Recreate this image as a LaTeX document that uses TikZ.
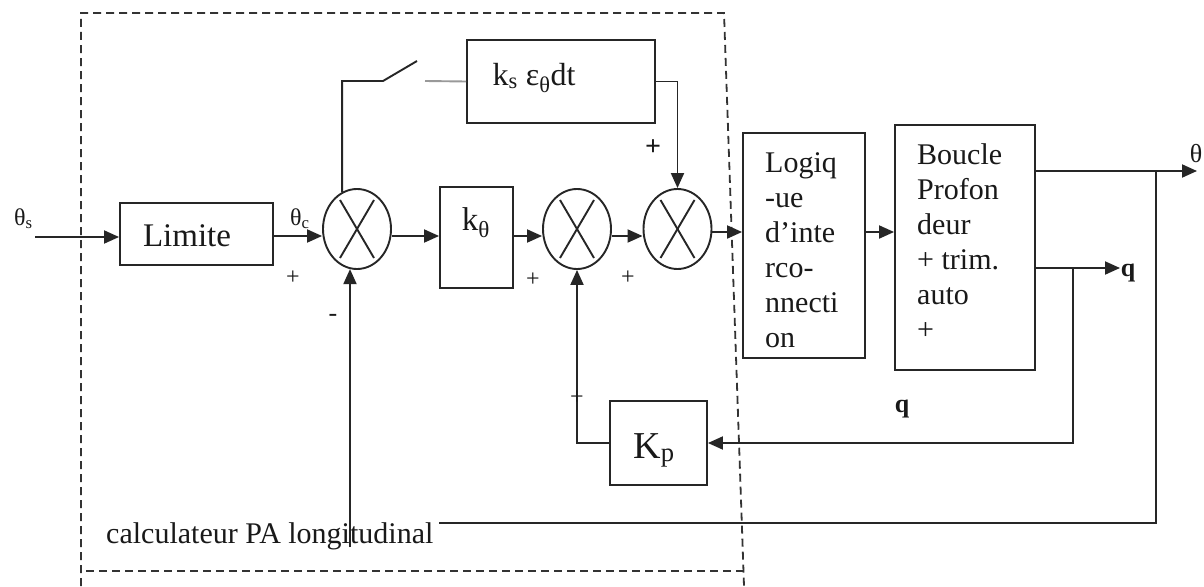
\documentclass[tikz,border=0pt]{standalone}
\usepackage{fontspec}
\setmainfont{Liberation Serif}
\usetikzlibrary{arrows.meta,shapes.geometric,calc}
\newcommand{\fsz}[1]{\fontsize{#1pt}{35pt}\selectfont}

\begin{document}
\begin{tikzpicture}[x=1pt,y=-1pt,
  ln/.style={line width=1.9pt,draw=black!85},
  arr/.style={ln,-{Triangle[length=15pt,width=13pt]}},
  blk/.style={ln,rectangle,inner sep=0pt},
  sum/.style={ln,ellipse,minimum width=68pt,minimum height=80pt,inner sep=0pt},
  lbl/.style={inner sep=0pt,text=black!90},
  frame/.style={line width=1.8pt,draw=black!80,dash pattern=on 8pt off 5pt}
]
\fill[white] (0,0) rectangle (1204,586);
\useasboundingbox (0,0) rectangle (1204,586);

% dashed frame of the autopilot computer
\draw[frame] (81,586) -- (81,13) -- (724,13) -- (744,586);
\draw[frame] (86,571) -- (743,571);

% blocks
\node[blk,minimum width=153pt,minimum height=62pt] (lim) at (196.5,234) {};
\node[lbl,font=\fsz{33},anchor=base] at (187,246) {Limite};

\node[blk,minimum width=73pt,minimum height=101pt] (k0) at (476.5,237.5) {};
\node[lbl,font=\fsz{33},anchor=base] at (476,230) {k\textsubscript{θ}};

\node[blk,minimum width=188pt,minimum height=83pt] (integ) at (561,81.5) {};
\node[lbl,font=\fsz{32},anchor=base] at (534,85) {k\textsubscript{s} ε\textsubscript{θ}dt};

\node[blk,minimum width=122pt,minimum height=225pt] (logiq) at (804,245.5) {};
\node[lbl,font=\fsz{30},align=left,anchor=north west] at (765,152)
  {Logiq\\-ue\\d'inte\\rco-\\nnecti\\on};

\node[blk,minimum width=140pt,minimum height=245pt] (boucle) at (965,247.5) {};
\node[lbl,font=\fsz{30},align=left,anchor=north west] at (917,143.5)
  {Boucle\\Profon\\deur\\+ trim.\\auto\\+};

\node[blk,minimum width=97pt,minimum height=84pt] (kp) at (658.5,443) {};
\node[lbl,font=\fsz{38},anchor=base] at (654,458) {K\textsubscript{p}};

% summing junctions
\node[sum] (s1) at (357,229) {};
\node[sum] (s2) at (577,229) {};
\node[sum] (s3) at (677.5,229) {};
\foreach \s in {s1,s2,s3}{
  \draw[ln] ([shift={(-17,-29)}]\s.center) -- ([shift={(17,29)}]\s.center);
  \draw[ln] ([shift={(17,-29)}]\s.center) -- ([shift={(-17,29)}]\s.center);
}

% main forward path
\coordinate (my) at (0,236);
\coordinate (my2) at (0,232);
\coordinate (in) at (35,237);
\draw[arr] (in) -- (in -| lim.west);
\draw[arr] (lim.east |- my) -- (s1.west |- my);
\draw[arr] (s1.east |- my) -- (k0.west |- my);
\draw[arr] (k0.east |- my) -- (s2.west |- my);
\draw[arr] (s2.east |- my) -- (s3.west |- my);
\draw[arr] (s3.east |- my2) -- (logiq.west |- my2);
\draw[arr] (logiq.east |- my2) -- (boucle.west |- my2);

% integral branch with switch
\coordinate (swA) at (383,81);
\coordinate (swB) at (417,61);
\coordinate (swC) at (425,81);
\draw[ln] (s1.112) |- (swA) -- (swB);
\draw[ln,draw=black!40] (swC) -- (integ.west);
\draw[arr] (integ.east) -| (s3.north);

% outputs
\coordinate (thOut) at (1197,171);
\coordinate (qOut) at (1120,268);
\coordinate (jt) at (1156,171);
\coordinate (jq) at (1073,268);
\draw[arr] (boucle.east |- thOut) -- (thOut);
\draw[arr] (boucle.east |- qOut) -- (qOut);

% pitch-rate feedback
\draw[arr] (jq) |- (kp.east);
\draw[arr] (kp.west) -| (s2.south);

% attitude feedback
\coordinate (fbc) at (350,523);
\coordinate (fbl) at (350,547);
\draw[ln] (jt) |- (fbc);
\node[lbl,fill=white,inner xsep=6pt,inner ysep=5pt,anchor=base west,font=\fsz{30}] (calc) at (100,543) {calculateur PA longitudinal};
\draw[arr] (fbl) -- (fbl |- s1.260);

% signal labels
\node[lbl,font=\fsz{24},anchor=base west] (ths) at (14,225) {θ\textsubscript{s}};
\node[lbl,font=\fsz{24},anchor=base west] (thc) at (290,225) {θ\textsubscript{c}};
\node[lbl,font=\fsz{26},anchor=base] (tho) at (1196,162) {θ};
\node[lbl,font=\bfseries\fsz{26},anchor=base] (ql) at (1128,276) {q};
\node[lbl,font=\bfseries\fsz{26},anchor=base] (qk) at (902,412) {q};

% signs
\node[lbl,font=\fsz{24}] at (293,278) {+};
\node[lbl,font=\fsz{24}] at (533,280) {+};
\node[lbl,font=\fsz{24}] at (628,278) {+};
\node[lbl,font=\fsz{24}] at (577,398) {+};
\node[lbl,font=\bfseries\fsz{28}] at (653,148) {+};
\node[lbl,font=\fsz{26}] at (333,318) {-};
\end{tikzpicture}
\end{document}
